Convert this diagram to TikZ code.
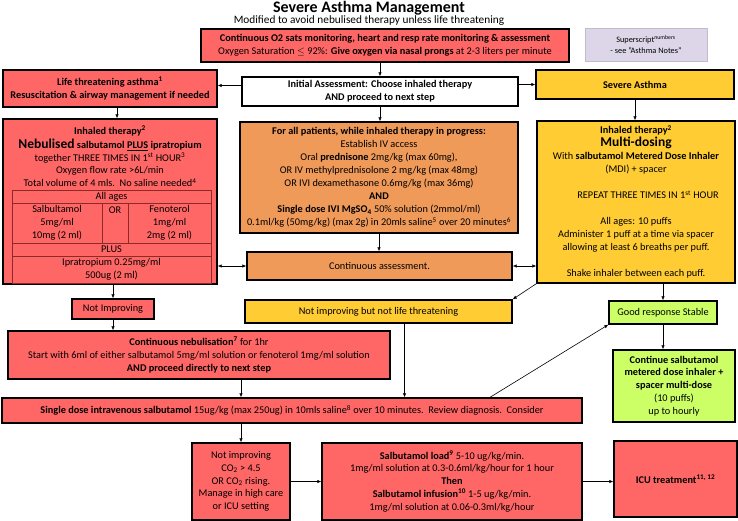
\documentclass[tikz,border=0pt]{standalone}
\usepackage{fontspec}
\setmainfont{Carlito}
\usetikzlibrary{arrows.meta}
\definecolor{alarm}{HTML}{FF6666}
\definecolor{warm}{HTML}{F09A5A}
\definecolor{amber}{HTML}{FFCC33}
\definecolor{fresh}{HTML}{CCFF66}
\definecolor{lilac}{HTML}{DCD6E8}
\definecolor{grid}{HTML}{8C2A2A}

\begin{document}
\begin{tikzpicture}[x=1pt, y=-1pt,
  font=\fontsize{10.3}{12.8}\selectfont,
  box/.style={draw=black, line width=1.4pt, align=center, inner sep=1pt, text=black},
  hot/.style={box, fill=alarm},
  mid/.style={box, fill=warm},
  sev/.style={box, fill=amber},
  ok/.style={box, fill=fresh},
  plain/.style={align=center, inner sep=0pt, text=black},
  cell/.style={draw=grid, line width=0.5pt},
  ar/.style={-{Latex[length=4pt,width=3.5pt]}, line width=0.6pt},
  dar/.style={{Latex[length=4pt,width=3.5pt]}-{Latex[length=4pt,width=3.5pt]}, line width=0.6pt}
]
\useasboundingbox (0,0) rectangle (738,521);

% heading
\node[plain, font=\fontsize{16}{18}\selectfont\bfseries] (title) at (369,8) {Severe Asthma Management};
\node[plain, font=\fontsize{11.3}{13}\selectfont] (sub) at (369,21)
  {Modified to avoid nebulised therapy unless life threatening};

% top row
\node[hot, minimum width=368pt, minimum height=33pt] (o2) at (385,45.5)
  {\textbf{Continuous O2 sats monitoring, heart and resp rate monitoring \& assessment}\\
   Oxygen Saturation $\leq$ 92\%: \textbf{Give oxygen via nasal prongs} at 2-3 liters per minute};
\node[plain, fill=lilac, draw=lilac!70!gray, line width=0.4pt, minimum width=122pt, minimum height=33pt,
  font=\fontsize{8.3}{11}\selectfont] (note) at (646,44.5)
  {Superscript\textsuperscript{numbers}\\- see "Asthma Notes"};

\node[hot, minimum width=214pt, minimum height=37pt] (life) at (110,88.5)
  {\textbf{Life threatening asthma\textsuperscript{1}}\\
   \textbf{Resuscitation \& airway management if needed}};
\node[box, fill=white, minimum width=276pt, minimum height=29pt] (init) at (380,91.5)
  {\textbf{Initial Assessment: Choose inhaled therapy}\\\textbf{AND proceed to next step}};
\node[sev, minimum width=198pt, minimum height=29pt] (severe) at (635,84.5) {\textbf{Severe Asthma}};

% nebulised therapy
\node[hot, minimum width=214pt, minimum height=165pt] (neb) at (110,201.5) {};
\node[plain] (nebtxt) at (110,156.5)
  {\textbf{Inhaled therapy\textsuperscript{2}}\\[1pt]
   {\fontsize{13.5}{15}\selectfont\textbf{Nebulised}} \textbf{salbutamol \underline{PLUS} ipratropium}\\
   together THREE TIMES IN 1\textsuperscript{st} HOUR\textsuperscript{3}\\
   Oxygen flow rate >6L/min\\
   Total volume of 4 mls.\ \ No saline needed\textsuperscript{4}};
\draw[cell] (12,190) rectangle (211,283);
\draw[cell] (12,203) -- (211,203);
\draw[cell] (12,243) -- (211,243);
\draw[cell] (12,256) -- (211,256);
\draw[cell] (102,203) -- (102,243);
\draw[cell] (128,203) -- (128,243);
\node[plain] (ages) at (111.5,196.5) {All ages};
\node[plain] (salb) at (57,223) {Salbultamol\\5mg/ml\\10mg (2 ml)};
\node[plain] (either) at (115,210) {OR};
\node[plain] (feno) at (169.5,223) {Fenoterol\\1mg/ml\\2mg (2 ml)};
\node[plain] (plus) at (111.5,249.5) {PLUS};
\node[plain] (ipra) at (111.5,269.5) {Ipratropium 0.25mg/ml\\500ug (2 ml)};

% all patients
\node[mid, minimum width=278pt, minimum height=111pt, font=\fontsize{10.3}{13}\selectfont] (steroid) at (379,177.5)
  {\textbf{For all patients, while inhaled therapy in progress:}\\
   Establish IV access\\
   Oral \textbf{prednisone} 2mg/kg (max 60mg),\\
   OR IV methylprednisolone 2 mg/kg (max 48mg)\\
   OR IVI dexamethasone 0.6mg/kg (max 36mg)\\
   \textbf{AND}\\
   \textbf{Single dose IVI MgSO\textsubscript{4}} 50\% solution (2mmol/ml)\\
   0.1ml/kg (50mg/kg) (max 2g) in 20mls saline\textsuperscript{5} over 20 minutes\textsuperscript{6}};
\node[mid, minimum width=265pt, minimum height=28pt] (assess) at (379.5,266) {Continuous assessment.};

% multi-dosing
\node[sev, minimum width=198pt, minimum height=162pt, font=\fontsize{10.3}{13}\selectfont] (mdi) at (636,202)
  {\textbf{Inhaled therapy\textsuperscript{2}}\\
   {\fontsize{13.5}{15}\selectfont\textbf{Multi-dosing}}\\
   With \textbf{salbutamol Metered Dose Inhaler}\\
   (MDI) + spacer\\[13pt]
   \hspace*{24pt}REPEAT THREE TIMES IN 1\textsuperscript{st} HOUR\\[13pt]
   All ages: 10 puffs\\
   Administer 1 puff at a time via spacer\\
   allowing at least 6 breaths per puff.\\[13pt]
   Shake inhaler between each puff.};

% middle
\node[hot, minimum width=82pt, minimum height=20pt] (notimp) at (113,309) {Not Improving};
\node[sev, minimum width=267pt, minimum height=23pt] (notlife) at (378.5,311.5)
  {Not improving but not life threatening};
\node[ok, minimum width=108pt, minimum height=23pt] (good) at (663,312.5) {Good response Stable};
\node[ok, minimum width=122pt, minimum height=72pt] (cont) at (674,386)
  {\textbf{Continue salbutamol}\\\textbf{metered dose inhaler +}\\\textbf{spacer multi-dose}\\(10 puffs)\\up to hourly};
\node[hot, minimum width=382pt, minimum height=48pt] (contneb) at (199,355)
  {\textbf{Continuous nebulisation\textsuperscript{7}} for 1hr\\
   Start with 6ml of either salbutamol 5mg/ml solution or fenoterol 1mg/ml solution\\
   \textbf{AND proceed directly to next step}};
\node[hot, minimum width=580pt, minimum height=25pt] (ivsalb) at (292,410.5)
  {\textbf{Single dose intravenous salbutamol} 15ug/kg (max 250ug) in 10mls saline\textsuperscript{8} over 10 minutes.\ \ Review diagnosis.\ \ Consider};

% bottom row
\node[hot, minimum width=98pt, minimum height=77pt] (co2) at (241,481.5)
  {Not improving\\CO\textsubscript{2} > 4.5\\OR CO\textsubscript{2} rising.\\Manage in high care\\or ICU setting};
\node[hot, minimum width=260pt, minimum height=77pt] (load) at (452,481.5)
  {\textbf{Salbutamol load\textsuperscript{9}} 5-10 ug/kg/min.\\
   1mg/ml solution at 0.3-0.6ml/kg/hour for 1 hour\\
   \textbf{Then}\\
   \textbf{Salbutamol infusion\textsuperscript{10}} 1-5 ug/kg/min.\\
   1mg/ml solution at 0.06-0.3ml/kg/hour};
\node[hot, minimum width=123pt, minimum height=76pt] (icu) at (675.5,479) {\textbf{ICU treatment\textsuperscript{11, 12}}};

% connectors
\draw[ar] (o2.south -| init.north) -- (init.north);
\draw[ar] ([yshift=6pt]init.west) -- ([yshift=6pt]init.west -| life.east);
\draw[ar] (init.east |- severe) -- (severe.west);
\draw[ar] ([xshift=7pt]life.south) -- ([xshift=7pt]neb.north);
\draw[ar] (init.south) -- (init.south |- steroid.north);
\draw[ar] (severe.south) -- (severe.south |- mdi.north);
\draw[ar] (steroid.south) -- (steroid.south |- assess.north);
\draw[dar] (neb.east |- assess) -- (assess.west);
\draw[dar] (assess.east) -- (assess.east -| mdi.west);
\draw[ar] (neb.south -| notimp) -- (notimp.north);
\draw[ar] (notimp.south) -- (notimp.south |- contneb.north);
\draw[ar] (mdi.south west) -- (notlife.north east);
\draw[ar] (mdi.south -| good) -- (good.north);
\draw[ar] (good.south) -- (good.south |- cont.north);
\draw[ar] (contneb.south -| co2.north) -- (ivsalb.north -| co2.north);
\draw[ar] ([xshift=26pt]notlife.south) -- ([xshift=26pt]notlife.south |- ivsalb.north);
\draw[ar] ([xshift=198pt]ivsalb.north) -- (good.south west);
\draw[ar] (ivsalb.south -| co2.north) -- (co2.north);
\draw[ar] (co2.east) -- (co2.east -| load.west);
\draw[ar] (load.east) -- (load.east -| icu.west);
\end{tikzpicture}
\end{document}
